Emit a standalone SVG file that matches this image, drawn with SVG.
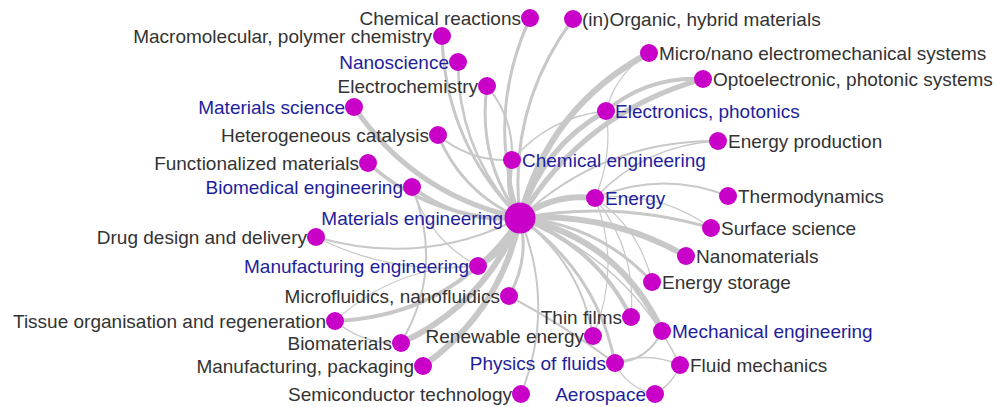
<svg xmlns="http://www.w3.org/2000/svg" width="997" height="407" viewBox="0 0 997 407">
<style>
.e{fill:none;stroke:#c8c8c8;stroke-linecap:round}
.n{fill:#c800c8}
text{font-family:"Liberation Sans",Arial,sans-serif;font-size:19px;fill:#333333}
text.b{fill:#1e1e9c}
.l{text-anchor:end}
</style>
<rect width="997" height="407" fill="#ffffff"/>
<g id="connectors">
<path class="e" stroke-width="3" d="M520,218 Q485,116 530,18"/>
<path class="e" stroke-width="3" d="M520,218 Q507,108 573,19"/>
<path class="e" stroke-width="3" d="M520,218 Q445,143 442,36"/>
<path class="e" stroke-width="2.5" d="M520,218 Q458,152 458,62"/>
<path class="e" stroke-width="3" d="M520,218 Q477,159 487,86"/>
<path class="e" stroke-width="5" d="M520,218 Q415,196 354,107"/>
<path class="e" stroke-width="3" d="M520,218 Q462,193 438,135"/>
<path class="e" stroke-width="3.5" d="M520,218 Q433,221 368,163"/>
<path class="e" stroke-width="4" d="M520,218 Q460,224 412,187"/>
<path class="e" stroke-width="2" d="M520,218 Q422,268 316,237"/>
<path class="e" stroke-width="5" d="M520,218 Q509,250 478,266"/>
<path class="e" stroke-width="3" d="M520,218 Q530,259 509,296"/>
<path class="e" stroke-width="4" d="M520,218 Q453,316 335,321"/>
<path class="e" stroke-width="6" d="M520,218 Q485,304 401,343"/>
<path class="e" stroke-width="6" d="M520,218 Q501,311 423,366"/>
<path class="e" stroke-width="2" d="M520,218 Q556,306 521,394"/>
<path class="e" stroke-width="2" d="M520,218 Q580,262 593,336"/>
<path class="e" stroke-width="4" d="M520,218 Q595,245 631,317"/>
<path class="e" stroke-width="3" d="M520,218 Q597,272 615,363"/>
<path class="e" stroke-width="6" d="M520,218 Q619,239 662,331"/>
<path class="e" stroke-width="1.5" d="M520,218 Q629,260 680,365"/>
<path class="e" stroke-width="3" d="M520,218 Q599,224 652,282"/>
<path class="e" stroke-width="6" d="M520,218 Q609,212 686,256"/>
<path class="e" stroke-width="3" d="M520,218 Q617,200 711,228"/>
<path class="e" stroke-width="6" d="M520,218 Q553,193 595,198"/>
<path class="e" stroke-width="5" d="M520,218 Q504,191 512,160"/>
<path class="e" stroke-width="2" d="M520,218 Q604,140 718,141"/>
<path class="e" stroke-width="5" d="M520,218 Q542,147 606,111"/>
<path class="e" stroke-width="5" d="M520,218 Q584,112 703,79"/>
<path class="e" stroke-width="6" d="M520,218 Q548,107 649,53"/>
<path class="e" stroke-width="4" d="M606,111 Q648,76 703,79"/>
<path class="e" stroke-width="1.2" d="M606,111 Q616,73 649,53"/>
<path class="e" stroke-width="1.2" d="M606,111 Q613,156 595,198"/>
<path class="e" stroke-width="1.5" d="M512,160 Q549,117 606,111"/>
<path class="e" stroke-width="2" d="M595,198 Q661,170 728,196"/>
<path class="e" stroke-width="1.5" d="M595,198 Q645,145 718,141"/>
<path class="e" stroke-width="1.2" d="M595,198 Q659,190 711,228"/>
<path class="e" stroke-width="1.2" d="M595,198 Q640,229 652,282"/>
<path class="e" stroke-width="1.2" d="M595,198 Q637,250 631,317"/>
<path class="e" stroke-width="1.2" d="M595,198 Q622,267 593,336"/>
<path class="e" stroke-width="2" d="M512,160 Q470,162 438,135"/>
<path class="e" stroke-width="2" d="M487,86 Q514,118 512,160"/>
<path class="e" stroke-width="2" d="M412,187 Q445,268 401,343"/>
<path class="e" stroke-width="1.5" d="M401,343 Q364,345 335,321"/>
<path class="e" stroke-width="1.2" d="M335,321 Q396,265 478,266"/>
<path class="e" stroke-width="2" d="M509,296 Q565,326 615,363"/>
<path class="e" stroke-width="2" d="M662,331 Q648,361 615,363"/>
<path class="e" stroke-width="1.5" d="M615,363 Q648,351 680,365"/>
<path class="e" stroke-width="1.2" d="M655,394 Q627,388 615,363"/>
<path class="e" stroke-width="1.5" d="M680,365 Q673,384 655,394"/>
<path class="e" stroke-width="1.2" d="M478,266 Q393,276 316,237"/>
<path class="e" stroke-width="1.2" d="M478,266 Q429,240 412,187"/>
</g>
<g id="materials-engineering"><circle class="n" cx="520" cy="218" r="15.5"/><text class="b l" x="503" y="225">Materials engineering</text></g>
<g id="chemical-reactions"><circle class="n" cx="530" cy="18" r="9"/><text class="l" x="521" y="25">Chemical reactions</text></g>
<g id="inorganic-hybrid"><circle class="n" cx="573" cy="19" r="9"/><text x="582" y="26">(in)Organic, hybrid materials</text></g>
<g id="macromolecular"><circle class="n" cx="442" cy="36" r="9"/><text class="l" x="432" y="43">Macromolecular, polymer chemistry</text></g>
<g id="nanoscience"><circle class="n" cx="458" cy="62" r="9"/><text class="b l" x="449" y="69">Nanoscience</text></g>
<g id="electrochemistry"><circle class="n" cx="487" cy="86" r="9"/><text class="l" x="478" y="93">Electrochemistry</text></g>
<g id="materials-science"><circle class="n" cx="354" cy="107" r="9"/><text class="b l" x="345" y="114">Materials science</text></g>
<g id="heterogeneous-catalysis"><circle class="n" cx="438" cy="135" r="9"/><text class="l" x="429" y="142">Heterogeneous catalysis</text></g>
<g id="functionalized-materials"><circle class="n" cx="368" cy="163" r="9"/><text class="l" x="359" y="170">Functionalized materials</text></g>
<g id="biomedical-engineering"><circle class="n" cx="412" cy="187" r="9"/><text class="b l" x="403" y="194">Biomedical engineering</text></g>
<g id="drug-design"><circle class="n" cx="316" cy="237" r="9"/><text class="l" x="307" y="244">Drug design and delivery</text></g>
<g id="manufacturing-engineering"><circle class="n" cx="478" cy="266" r="9"/><text class="b l" x="469" y="273">Manufacturing engineering</text></g>
<g id="microfluidics"><circle class="n" cx="509" cy="296" r="9"/><text class="l" x="500" y="303">Microfluidics, nanofluidics</text></g>
<g id="tissue"><circle class="n" cx="335" cy="321" r="9"/><text class="l" x="326" y="328">Tissue organisation and regeneration</text></g>
<g id="biomaterials"><circle class="n" cx="401" cy="343" r="9"/><text class="l" x="392" y="350">Biomaterials</text></g>
<g id="manufacturing-packaging"><circle class="n" cx="423" cy="366" r="9"/><text class="l" x="414" y="373">Manufacturing, packaging</text></g>
<g id="semiconductor"><circle class="n" cx="521" cy="394" r="9"/><text class="l" x="512" y="401">Semiconductor technology</text></g>
<g id="renewable-energy"><circle class="n" cx="593" cy="336" r="9"/><text class="l" x="584" y="343">Renewable energy</text></g>
<g id="thin-films"><circle class="n" cx="631" cy="317" r="9"/><text class="l" x="622" y="324">Thin films</text></g>
<g id="physics-of-fluids"><circle class="n" cx="615" cy="363" r="9"/><text class="b l" x="606" y="370">Physics of fluids</text></g>
<g id="aerospace"><circle class="n" cx="655" cy="394" r="9"/><text class="b l" x="646" y="401">Aerospace</text></g>
<g id="mechanical-engineering"><circle class="n" cx="662" cy="331" r="9"/><text class="b" x="672" y="338">Mechanical engineering</text></g>
<g id="fluid-mechanics"><circle class="n" cx="680" cy="365" r="9"/><text x="690" y="372">Fluid mechanics</text></g>
<g id="energy-storage"><circle class="n" cx="652" cy="282" r="9"/><text x="662" y="289">Energy storage</text></g>
<g id="nanomaterials"><circle class="n" cx="686" cy="256" r="9"/><text x="696" y="263">Nanomaterials</text></g>
<g id="surface-science"><circle class="n" cx="711" cy="228" r="9"/><text x="721" y="235">Surface science</text></g>
<g id="thermodynamics"><circle class="n" cx="728" cy="196" r="9"/><text x="738" y="203">Thermodynamics</text></g>
<g id="energy"><circle class="n" cx="595" cy="198" r="9"/><text class="b" x="605" y="205">Energy</text></g>
<g id="chemical-engineering"><circle class="n" cx="512" cy="160" r="9"/><text class="b" x="522" y="167">Chemical engineering</text></g>
<g id="energy-production"><circle class="n" cx="718" cy="141" r="9"/><text x="728" y="148">Energy production</text></g>
<g id="electronics-photonics"><circle class="n" cx="606" cy="111" r="9"/><text class="b" x="615" y="118">Electronics, photonics</text></g>
<g id="optoelectronic"><circle class="n" cx="703" cy="79" r="9"/><text x="713" y="86">Optoelectronic, photonic systems</text></g>
<g id="micro-nano"><circle class="n" cx="649" cy="53" r="9"/><text x="659" y="60">Micro/nano electromechanical systems</text></g>
</svg>
